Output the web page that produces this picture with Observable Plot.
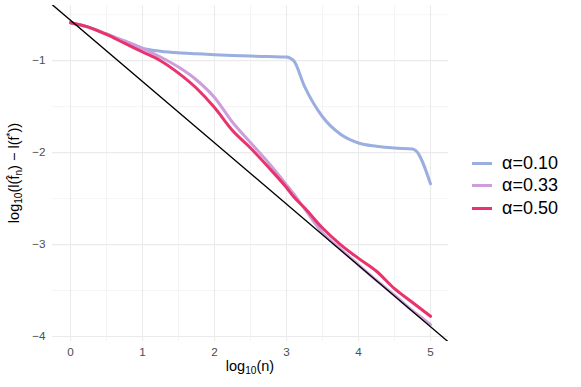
<!DOCTYPE html>
<html>
<head>
<meta charset="utf-8">
<script src="https://cdn.jsdelivr.net/npm/d3@7"></script>
<script src="https://cdn.jsdelivr.net/npm/@observablehq/plot@0.6"></script>
<style>
  html, body { margin: 0; padding: 0; background: #fff; }
  #wrap { position: relative; width: 581px; height: 387px; font-family: "Liberation Sans", Arial, sans-serif; }
  .xtitle { position: absolute; left: 52px; width: 396px; top: 359px; text-align: center; font-size: 14.5px; color: #000; line-height: 1; }
  .ytitle { position: absolute; left: 15px; top: 173px; transform: translate(-50%, -50%) rotate(-90deg); white-space: nowrap; font-size: 14.5px; color: #000; line-height: 1; }
  sub { font-size: 70%; vertical-align: -0.3em; }
  sup { font-size: 70%; vertical-align: 0.5em; }
  .legend { position: absolute; left: 470px; top: 152px; font-size: 18px; color: #000; }
  .legend .row { display: flex; align-items: center; height: 22.5px; }
  .legend .key { width: 20px; height: 3px; margin-left: 2px; margin-right: 10px; }
</style>
</head>
<body>
<div id="wrap"></div>
<script>
// log10(n)
const logN = [0, 0.25, 0.5, 0.75, 1, 1.25, 1.5, 1.75, 2, 2.25, 2.5, 2.75, 3, 3.1, 3.25, 3.5, 3.75, 4, 4.25, 4.5, 4.75, 4.8, 5];
// log10(l(f_n) - l(f*)) per alpha
const alpha010 = [-0.587, -0.635, -0.71, -0.785, -0.865, -0.897, -0.915, -0.925, -0.935, -0.943, -0.95, -0.955, -0.96, -1.0, -1.28, -1.61, -1.80, -1.895, -1.93, -1.95, -1.96, -1.98, -2.34];
const alpha033 = [-0.587, -0.635, -0.71, -0.785, -0.865, -0.96, -1.07, -1.21, -1.40, -1.67, -1.89, -2.11, -2.35, -2.45, -2.61, -2.87, -3.05, -3.22, -3.39, -3.55, -3.72, -3.75, -3.87];
const alpha050 = [-0.587, -0.635, -0.715, -0.81, -0.905, -1.0, -1.135, -1.30, -1.51, -1.76, -1.95, -2.16, -2.38, -2.48, -2.60, -2.82, -3.0, -3.15, -3.29, -3.48, -3.63, -3.66, -3.78];
const seriesNames = ["α=0.10", "α=0.33", "α=0.50"];
const seriesColors = ["#9BAEE0", "#CC9EDB", "#E8336B"];
// reference line: y = intercept + slope * x
const refIntercept = -0.56;
const refSlope = -2 / 3;
const xTicks = [0, 1, 2, 3, 4, 5];
const yTicks = [-1, -2, -3, -4];
const xMinor = [0.5, 1.5, 2.5, 3.5, 4.5];
const yMinor = [-0.5, -1.5, -2.5, -3.5];
const xDomain = [-0.25, 5.25];
const yDomain = [-4.054, -0.40];

const seriesValues = [alpha010, alpha033, alpha050];
const data = seriesNames.flatMap((name, i) => logN.map((x, j) => ({x, y: seriesValues[i][j], series: name})));
const refLine = xDomain.map(x => ({x, y: refIntercept + refSlope * x}));

const chart = Plot.plot({
  width: 581,
  height: 387,
  marginLeft: 52,
  marginRight: 133,
  marginTop: 5,
  marginBottom: 46,
  style: {fontFamily: "Liberation Sans, Arial, sans-serif", fontSize: "11.7px", background: "#fff", color: "#4D4D4D"},
  x: {domain: xDomain, label: null},
  y: {domain: yDomain, label: null},
  color: {domain: seriesNames, range: seriesColors},
  marks: [
    Plot.ruleX(xMinor, {stroke: "#EBEBEB", strokeWidth: 0.55}),
    Plot.ruleY(yMinor, {stroke: "#EBEBEB", strokeWidth: 0.55}),
    Plot.ruleX(xTicks, {stroke: "#EBEBEB", strokeWidth: 1.1}),
    Plot.ruleY(yTicks, {stroke: "#EBEBEB", strokeWidth: 1.1}),
    Plot.axisX({ticks: xTicks, tickSize: 0, tickPadding: 6.5, label: null, tickFormat: d => String(d)}),
    Plot.axisY({ticks: yTicks, tickSize: 0, tickPadding: 7, label: null, tickFormat: d => "−" + Math.abs(d)}),
    Plot.line(data, {x: "x", y: "y", z: "series", stroke: "series", strokeWidth: 3, curve: "monotone-x", strokeLinejoin: "round"}),
    Plot.line(refLine, {x: "x", y: "y", stroke: "#000", strokeWidth: 1.3, clip: true})
  ]
});

const wrap = document.getElementById("wrap");
wrap.appendChild(chart);

const xt = document.createElement("div");
xt.className = "xtitle";
xt.innerHTML = "log<sub>10</sub>(n)";
wrap.appendChild(xt);

const yt = document.createElement("div");
yt.className = "ytitle";
yt.innerHTML = "log<sub>10</sub>(l(f\u0302<sub>n</sub>) − l(f<sup>*</sup>))";
wrap.appendChild(yt);

const lg = document.createElement("div");
lg.className = "legend";
seriesNames.forEach((name, i) => {
  const row = document.createElement("div");
  row.className = "row";
  const key = document.createElement("div");
  key.className = "key";
  key.style.background = seriesColors[i];
  const label = document.createElement("span");
  label.textContent = name;
  row.appendChild(key);
  row.appendChild(label);
  lg.appendChild(row);
});
wrap.appendChild(lg);
</script>
</body>
</html>
